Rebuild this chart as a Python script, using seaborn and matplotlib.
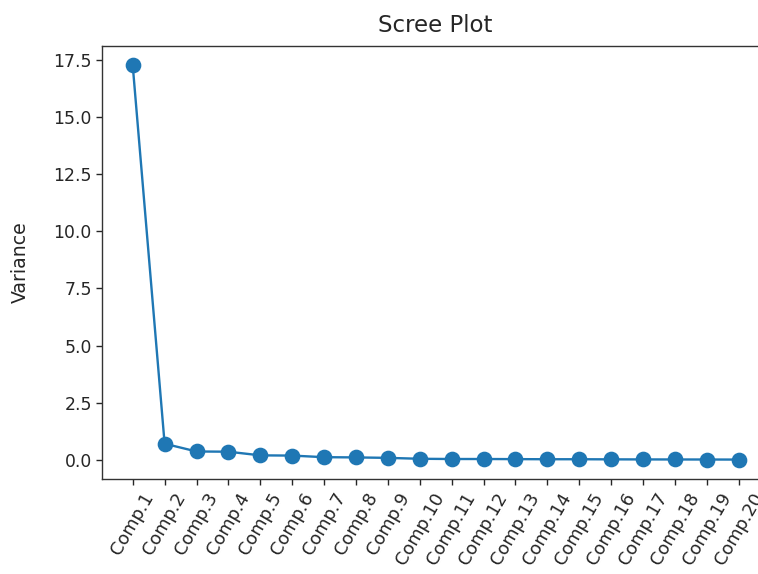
import matplotlib
matplotlib.use("Agg")
import matplotlib.pyplot as plt
import seaborn as sns
import pandas as pd

# Variance explained by each principal component
components = [f"Comp.{i}" for i in range(1, 21)]
variance = [17.27, 0.70, 0.36, 0.35, 0.19, 0.18, 0.11, 0.10, 0.08, 0.04,
            0.03, 0.03, 0.025, 0.02, 0.02, 0.015, 0.012, 0.01, 0.008, 0.005]
yticks = [0, 2.5, 5, 7.5, 10, 12.5, 15, 17.5]

df = pd.DataFrame({"component": components, "variance": variance})

plt.rcParams.update({
    "font.family": "DejaVu Sans",
    "text.color": ".15",
    "axes.labelcolor": ".15",
    "xtick.color": ".15",
    "ytick.color": ".15",
    "axes.edgecolor": ".2",
    "axes.linewidth": 1.0,
    "xtick.major.size": 4.1,
    "ytick.major.size": 4.1,
    "xtick.major.width": 1.0,
    "ytick.major.width": 1.0,
})

DPI = 100
fig = plt.figure(figsize=(758 / DPI, 574 / DPI), dpi=DPI)
ax = fig.add_axes([0.135, 0.165, 0.8795, 0.7554])

sns.pointplot(data=df, x="component", y="variance", ax=ax,
              color="#1f77b4", markers="o", linewidth=1.7,
              markersize=10, errorbar=None)

ax.set_xlim(-0.953, 19.95)
ymin, ymax = min(variance), max(variance)
pad = 0.05 * (ymax - ymin)
ax.set_ylim(ymin - pad, ymax + pad)
ax.set_yticks(yticks)
ax.set_yticklabels([f"{v:.1f}" for v in yticks])

ax.tick_params(axis="y", labelsize=12.4)
ax.tick_params(axis="x", labelsize=12.8)
plt.setp(ax.get_xticklabels(), rotation=60, ha="center")
ax.set_xlabel("")
ax.set_ylabel("Variance", fontsize=13.6, labelpad=17)
ax.set_title("Scree Plot", fontsize=16.5, pad=10)

fig.savefig("out.png", dpi=DPI)
